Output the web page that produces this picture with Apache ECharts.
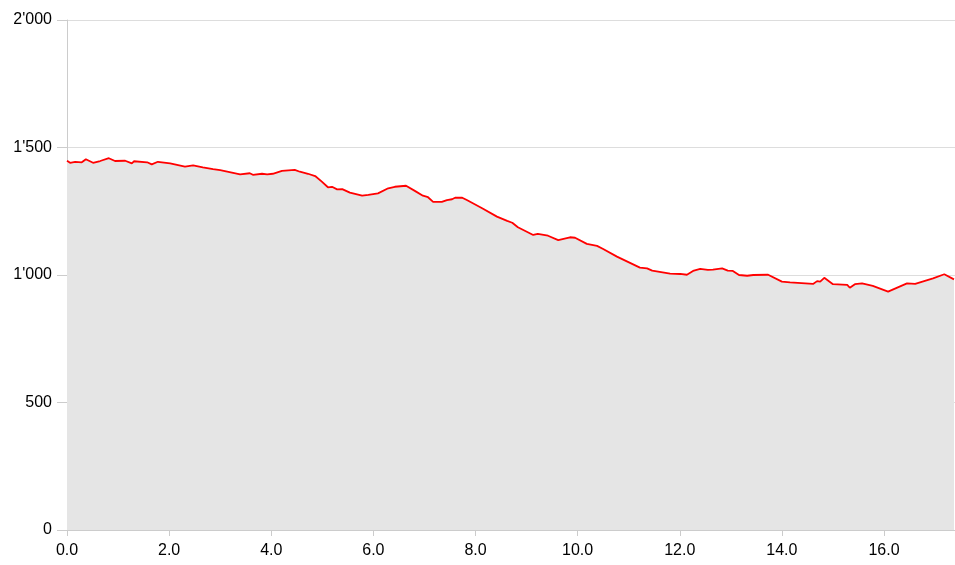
<!DOCTYPE html>
<html>
<head>
<meta charset="utf-8">
<script src="https://cdn.jsdelivr.net/npm/echarts@6/dist/echarts.min.js"></script>
<style>html,body{margin:0;padding:0;background:#fff}#c{width:955px;height:565px}</style>
</head>
<body>
<div id="c"></div>
<script>
const distance = [0.00,0.06,0.16,0.29,0.37,0.51,0.65,0.82,0.94,1.14,1.27,1.31,1.57,1.66,1.78,2.02,2.31,2.47,2.66,2.86,3.00,3.39,3.58,3.64,3.82,3.92,4.03,4.21,4.46,4.56,4.72,4.86,4.99,5.11,5.19,5.29,5.39,5.54,5.78,5.90,6.09,6.29,6.42,6.64,6.82,6.97,7.07,7.17,7.34,7.44,7.54,7.60,7.74,7.83,8.13,8.42,8.62,8.72,8.83,9.13,9.22,9.42,9.62,9.85,9.95,10.18,10.38,10.50,10.77,11.22,11.36,11.46,11.81,12.01,12.14,12.26,12.40,12.55,12.65,12.83,12.94,13.04,13.16,13.32,13.44,13.73,14.00,14.16,14.61,14.69,14.75,14.83,15.00,15.28,15.33,15.43,15.57,15.78,16.08,16.45,16.61,16.96,17.18,17.37];
const elevation = [1448,1440,1444,1442,1454,1440,1447,1458,1447,1448,1438,1446,1442,1434,1444,1438,1425,1430,1422,1415,1411,1395,1399,1393,1397,1395,1397,1408,1412,1405,1397,1388,1366,1344,1346,1336,1337,1323,1311,1314,1320,1340,1346,1350,1329,1311,1305,1287,1287,1294,1297,1303,1303,1294,1262,1229,1212,1205,1187,1157,1161,1154,1137,1148,1146,1122,1114,1102,1072,1029,1026,1017,1005,1004,1001,1016,1024,1020,1021,1026,1017,1016,1000,997,1000,1001,974,971,965,976,974,989,964,961,950,964,967,957,935,967,965,987,1003,983];
const xMax = 17.39;
const yTicks = [0, 500, 1000, 1500, 2000];

const data = distance.map((d, i) => [d, elevation[i]]);
const fmtThousands = v => String(v).replace(/\B(?=(\d{3})+(?!\d))/g, "'");

const chart = echarts.init(document.getElementById('c'), null, {renderer: 'canvas'});
chart.setOption({
  animation: false,
  grid: {left: 67, right: 0, top: 20, bottom: 35, containLabel: false},
  xAxis: {
    type: 'value', min: 0, max: xMax, interval: 2,
    axisLine: {show: true, lineStyle: {color: '#cccccc', width: 1}},
    axisTick: {show: true, inside: false, length: 6, lineStyle: {color: '#cccccc', width: 1}},
    axisLabel: {showMaxLabel: false, color: '#000', fontSize: 16, fontFamily: 'Liberation Sans, Arial, sans-serif', margin: 13,
      formatter: v => v.toFixed(1)},
    splitLine: {show: false}
  },
  yAxis: {
    type: 'value', min: yTicks[0], max: yTicks[yTicks.length - 1], interval: 500,
    axisLine: {show: true, lineStyle: {color: '#cccccc', width: 1}},
    axisTick: {show: true, inside: false, length: 10, lineStyle: {color: '#cccccc', width: 1}},
    axisLabel: {color: '#000', fontSize: 16, fontFamily: 'Liberation Sans, Arial, sans-serif', margin: 15,
      formatter: v => fmtThousands(v)},
    splitLine: {show: true, lineStyle: {color: '#dddddd', width: 1}}
  },
  series: [{
    type: 'line', data: data, showSymbol: false, smooth: false,
    lineStyle: {color: '#ff0000', width: 1.8},
    areaStyle: {color: '#e5e5e5', opacity: 1}
  }]
});
</script>
</body>
</html>
